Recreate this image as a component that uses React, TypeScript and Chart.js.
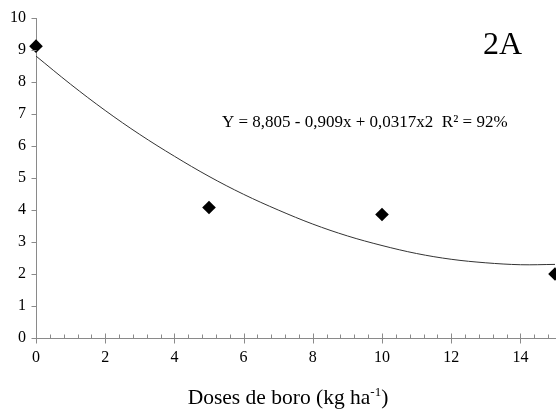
import React, { useEffect, useRef } from "react";
import { Chart, registerables } from "chart.js";

Chart.register(...registerables);

// Observed data (boron doses, kg/ha) and measured values
const doses = [0, 5, 10, 15];
const observed = [9.12, 4.08, 3.86, 2.0];

// Fitted trend curve at integer doses
const trendDoses = [0, 1, 2, 3, 4, 5, 6, 7, 8, 9, 10, 11, 12, 13, 14, 15];
const trendValues = [8.81, 7.93, 7.11, 6.36, 5.68, 5.05, 4.49, 4.0, 3.56, 3.19, 2.89, 2.64, 2.46, 2.35, 2.29, 2.3];

// Axis ticks
const xMajorTicks = [0, 2, 4, 6, 8, 10, 12, 14];
const xMinorStep = 0.4;
const yTicks = [0, 1, 2, 3, 4, 5, 6, 7, 8, 9, 10];

const panelLabel = "2A";
const equationLabel = "Y = 8,805 - 0,909x + 0,0317x2  R² = 92%";
const xTitleMain = "Doses de boro (kg ha";
const xTitleSup = "-1";
const xTitleEnd = ")";

const FONT = "'Liberation Serif', 'Times New Roman', serif";
const AXIS_COLOR = "#8a8a8a";

const decorPlugin = {
  id: "decor",
  afterDraw(chart: any) {
    const { ctx, chartArea } = chart;
    const xs = chart.scales.x;
    const ys = chart.scales.y;
    ctx.save();
    ctx.strokeStyle = AXIS_COLOR;
    ctx.lineWidth = 1;
    ctx.beginPath();
    const left = Math.round(chartArea.left) + 0.5;
    const bottom = Math.round(chartArea.bottom) + 0.5;
    // y ticks
    for (const v of yTicks) {
      const py = Math.round(ys.getPixelForValue(v)) + 0.5;
      ctx.moveTo(left - 5, py);
      ctx.lineTo(left, py);
    }
    // x minor ticks
    const nMinor = Math.floor(15 / xMinorStep + 1e-6);
    for (let i = 0; i <= nMinor; i++) {
      const v = i * xMinorStep;
      const px = Math.round(xs.getPixelForValue(v)) + 0.5;
      ctx.moveTo(px, bottom - 4);
      ctx.lineTo(px, bottom);
    }
    // x major ticks
    for (const v of xMajorTicks) {
      const px = Math.round(xs.getPixelForValue(v)) + 0.5;
      ctx.moveTo(px, bottom - 5);
      ctx.lineTo(px, bottom + 5);
    }
    ctx.stroke();

    ctx.fillStyle = "#000";
    ctx.textBaseline = "alphabetic";
    ctx.textAlign = "left";
    // panel label
    ctx.font = `32px ${FONT}`;
    ctx.fillText(panelLabel, 483, 54);
    // equation
    ctx.font = `17px ${FONT}`;
    ctx.fillText(equationLabel, 222, 127);
    // x title with superscript
    ctx.font = `21.5px ${FONT}`;
    const w1 = ctx.measureText(xTitleMain).width;
    const w3 = ctx.measureText(xTitleEnd).width;
    ctx.font = `13px ${FONT}`;
    const w2 = ctx.measureText(xTitleSup).width;
    const total = w1 + w2 + w3;
    const cx = 288;
    const x0 = cx - total / 2;
    const base = 404;
    ctx.font = `21.5px ${FONT}`;
    ctx.fillText(xTitleMain, x0, base);
    ctx.font = `13px ${FONT}`;
    ctx.fillText(xTitleSup, x0 + w1, base - 8);
    ctx.font = `21.5px ${FONT}`;
    ctx.fillText(xTitleEnd, x0 + w1 + w2, base);
    ctx.restore();
  },
};

export default function App() {
  const ref = useRef<HTMLCanvasElement>(null);
  useEffect(() => {
    document.body.style.margin = "0";
    const canvas = ref.current;
    if (!canvas) return;
    const chart = new Chart(canvas, {
      type: "scatter",
      data: {
        datasets: [
          {
            type: "scatter",
            label: "Observed",
            data: doses.map((d, i) => ({ x: d, y: observed[i] })),
            pointStyle: "rectRot",
            pointRadius: 6.8,
            pointHoverRadius: 6.8,
            backgroundColor: "#000",
            borderColor: "#000",
            borderWidth: 0,
            clip: false as any,
            order: 0,
          },
          {
            type: "line",
            label: "Trend",
            data: trendDoses.map((d, i) => ({ x: d, y: trendValues[i] })),
            borderColor: "#333333",
            borderWidth: 1,
            pointRadius: 0,
            tension: 0.35,
            fill: false,
            order: 1,
          } as any,
        ],
      },
      options: {
        responsive: false,
        animation: false,
        events: [],
        layout: { autoPadding: false, padding: { top: 18, right: 1, left: 0, bottom: 0 } },
        plugins: {
          legend: { display: false },
          tooltip: { enabled: false },
          title: { display: false },
        },
        scales: {
          x: {
            type: "linear",
            min: 0,
            max: 15,
            grid: { display: false, drawTicks: false },
            border: { display: true, color: AXIS_COLOR, width: 1 },
            afterBuildTicks: (scale: any) => {
              scale.ticks = xMajorTicks.map((v) => ({ value: v }));
            },
            afterFit: (scale: any) => {
              scale.height = 72;
              scale.paddingRight = 0;
              scale.paddingLeft = 0;
            },
            ticks: {
              autoSkip: false,
              maxRotation: 0,
              padding: 10,
              color: "#000",
              font: { family: FONT, size: 16 },
            },
          },
          y: {
            type: "linear",
            min: 0,
            max: 10,
            grid: { display: false, drawTicks: false },
            border: { display: true, color: AXIS_COLOR, width: 1 },
            afterBuildTicks: (scale: any) => {
              scale.ticks = yTicks.map((v) => ({ value: v }));
            },
            afterFit: (scale: any) => {
              scale.width = 36;
              scale.paddingTop = 0;
              scale.paddingBottom = 0;
            },
            ticks: {
              padding: 10,
              color: "#000",
              font: { family: FONT, size: 16 },
            },
          },
        },
      },
      plugins: [decorPlugin],
    });
    return () => chart.destroy();
  }, []);
  return (
    <div style={{ position: "absolute", left: 0, top: 0, width: 556, height: 410, background: "#fff" }}>
      <canvas ref={ref} width={556} height={410} style={{ display: "block" }} />
    </div>
  );
}
